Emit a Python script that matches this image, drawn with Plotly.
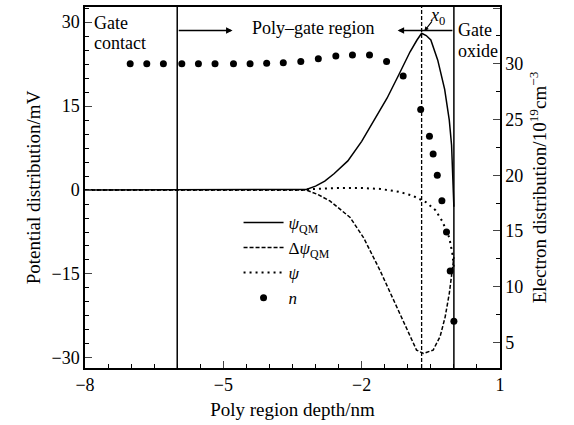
import plotly.graph_objects as go

# --- data ---
psi_qm_x = [-8, -3.4, -3.2, -3.0, -2.8, -2.6, -2.3, -2.0, -1.7, -1.45, -1.2, -0.95, -0.8, -0.7,
            -0.6, -0.5, -0.35, -0.2, -0.1, -0.05, 0]
psi_qm_y = [0, 0, 0.1, 0.7, 1.6, 2.9, 5.2, 8.7, 12.8, 16.4, 20.5, 24.7, 26.8, 28.0,
            27.6, 26.8, 23.2, 18.0, 12.5, 8.0, -3.0]

dpsi_x = [-8, -3.2, -2.95, -2.69, -2.25, -1.96, -1.6, -1.31, -1.02, -0.81, -0.66,
          -0.45, -0.3, -0.19, -0.1, -0.03, 0.0]
dpsi_y = [0, 0, -0.8, -1.95, -4.9, -8.5, -14.4, -19.7, -25.0, -28.6, -29.2,
          -28.6, -26.2, -22.7, -18.5, -14.4, -12.0]

psi_x = [-8, -3.3, -3.0, -2.5, -2.0, -1.6, -1.2, -0.9, -0.6, -0.4, -0.25, -0.1, -0.03, 0]
psi_y = [0, 0, 0.2, 0.35, 0.35, 0.2, -0.3, -1.0, -2.2, -3.6, -5.6, -8.5, -11.5, -14.0]

n_x = [-7.02, -6.66, -6.30, -5.90, -5.54, -5.18, -4.78, -4.42, -4.06, -3.70, -3.32, -2.94,
       -2.56, -2.20, -1.83, -1.46, -1.10, -0.72, -0.53, -0.45, -0.36, -0.26, -0.16, -0.08, 0.0]
n_y = [30.0, 30.0, 30.0, 30.0, 30.0, 30.0, 30.0, 30.0, 30.05, 30.1, 30.2, 30.45,
       30.7, 30.8, 30.8, 30.2, 28.9, 25.9, 23.5, 21.9, 20.0, 17.7, 14.9, 11.4, 6.9]

x_ticks = [-8, -5, -2, 1]
y_ticks = [-30, -15, 0, 15, 30]
y2_ticks = [5, 10, 15, 20, 25, 30, 35]

gate_contact_x = -6.0
gate_oxide_x = 0.0
x0_pos = -0.7

FONT = "Liberation Serif, Times New Roman, serif"

fig = go.Figure()
fig.add_trace(go.Scatter(x=psi_qm_x, y=psi_qm_y, mode="lines",
                         line=dict(color="black", width=1.5),
                         name="<i>ψ</i><sub>QM</sub>"))
fig.add_trace(go.Scatter(x=dpsi_x, y=dpsi_y, mode="lines",
                         line=dict(color="black", width=1.5, dash="4px,2px"),
                         name="Δ<i>ψ</i><sub>QM</sub>"))
fig.add_trace(go.Scatter(x=psi_x, y=psi_y, mode="lines",
                         line=dict(color="black", width=2, dash="2px,4px"),
                         name="<i>ψ</i>"))
fig.add_trace(go.Scatter(x=n_x, y=n_y, mode="markers", yaxis="y2",
                         marker=dict(color="black", size=7),
                         name="<i>n</i>"))

# vertical region boundaries
fig.add_shape(type="line", x0=gate_contact_x, x1=gate_contact_x, y0=0, y1=1,
              xref="x", yref="paper", line=dict(color="black", width=1.5))
fig.add_shape(type="line", x0=gate_oxide_x, x1=gate_oxide_x, y0=0, y1=1,
              xref="x", yref="paper", line=dict(color="black", width=1.5))
fig.add_shape(type="line", x0=x0_pos, x1=x0_pos, y0=0, y1=1,
              xref="x", yref="paper", line=dict(color="black", width=1.3, dash="4px,2px"))

ann_font = dict(family=FONT, size=18, color="black")
arrow_y = 28.5
anns = [
    dict(x=-7.85, y=29.8, text="Gate", xanchor="left", yanchor="middle", showarrow=False, font=ann_font),
    dict(x=-7.85, y=26.2, text="contact", xanchor="left", yanchor="middle", showarrow=False, font=ann_font),
    dict(x=-3.05, y=29.0, text="Poly–gate region", xanchor="center", yanchor="middle", showarrow=False, font=ann_font),
    dict(x=0.05, y=28.6, text="Gate", xanchor="left", yanchor="middle", showarrow=False, font=ann_font),
    dict(x=0.05, y=24.9, text="oxide", xanchor="left", yanchor="middle", showarrow=False, font=ann_font),
    dict(x=-0.36, y=31.0, text="<i>x</i><sub>0</sub>", xanchor="center", yanchor="middle", showarrow=False, font=ann_font),
    # arrows
    dict(x=-4.8, y=arrow_y, ax=gate_contact_x, ay=arrow_y, xref="x", yref="y", axref="x", ayref="y",
         text="", showarrow=True, arrowhead=2, arrowsize=1, arrowwidth=1.3, arrowcolor="black"),
    dict(x=-1.22, y=arrow_y, ax=gate_oxide_x, ay=arrow_y, xref="x", yref="y", axref="x", ayref="y",
         text="", showarrow=True, arrowhead=2, arrowsize=1, arrowwidth=1.3, arrowcolor="black"),
    dict(x=-0.64, y=28.4, ax=-0.45, ay=30.4, xref="x", yref="y", axref="x", ayref="y",
         text="", showarrow=True, arrowhead=2, arrowsize=0.8, arrowwidth=1.1, arrowcolor="black"),
]
for a in anns:
    a.setdefault("xref", "x")
    a.setdefault("yref", "y")
fig.update_layout(annotations=anns)

tick_font = dict(family=FONT, size=18, color="black")
title_font = dict(family=FONT, size=19, color="black")

fig.update_layout(
    width=574, height=425,
    margin=dict(l=85, r=74, t=5, b=57),
    paper_bgcolor="white", plot_bgcolor="white",
    showlegend=True,
    legend=dict(x=0.37, y=0.452, xanchor="left", yanchor="top",
                bgcolor="rgba(0,0,0,0)", font=dict(family=FONT, size=17, color="black"),
                itemwidth=40, tracegroupgap=0),
    xaxis=dict(range=[-8, 1], tickvals=x_ticks, ticks="inside", ticklen=7, tickwidth=1.3,
               showline=True, linecolor="black", linewidth=1.5, mirror=True,
               showgrid=False, zeroline=False, tickfont=tick_font,
               minor=dict(dtick=0.5, tick0=-8, ticks="inside", ticklen=4, tickcolor="black", showgrid=False),
               title=dict(text="Poly region depth/nm", font=title_font, standoff=8)),
    yaxis=dict(range=[-31.8, 32.7], tickvals=y_ticks, ticks="inside", ticklen=7, tickwidth=1.3,
               showline=True, linecolor="black", linewidth=1.5,
               showgrid=False, zeroline=False, tickfont=tick_font,
               minor=dict(dtick=2.5, tick0=0, ticks="inside", ticklen=4, tickcolor="black", showgrid=False),
               title=dict(text="Potential distribution/mV", font=title_font, standoff=6)),
    yaxis2=dict(range=[2.7, 35.1], tickvals=y2_ticks, ticks="inside", ticklen=7, tickwidth=1.3,
                overlaying="y", side="right", showline=True, linecolor="black", linewidth=1.5,
                showgrid=False, zeroline=False, tickfont=tick_font,
                minor=dict(dtick=2.5, tick0=0, ticks="inside", ticklen=4, tickcolor="black", showgrid=False),
                title=dict(text="Electron distribution/10<sup>19</sup>cm<sup>−3</sup>", font=title_font, standoff=10)),
)

fig.write_html("out.html")
